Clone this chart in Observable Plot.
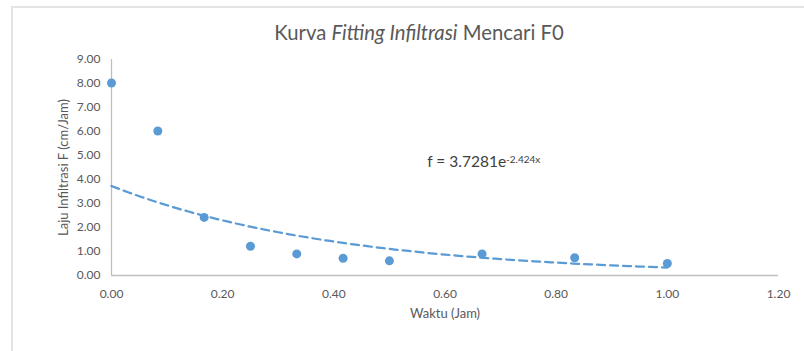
<!DOCTYPE html>
<html>
<head>
<meta charset="utf-8">
<script src="https://cdn.jsdelivr.net/npm/d3@7"></script>
<script src="https://cdn.jsdelivr.net/npm/@observablehq/plot@0.6"></script>
<style>
  html, body { margin: 0; padding: 0; background: #fff; }
  #chart { position: relative; width: 804px; height: 351px; overflow: hidden; font-family: Lato, "Open Sans", sans-serif; }
  #frame { position: absolute; left: 11px; top: 6px; width: 900px; height: 400px;
           border-left: 2px solid #e4e4e4; border-top: 2px solid #e4e4e4; }
  #title { position: absolute; left: 0; width: 838px; top: 20px; text-align: center;
           font-size: 20.3px; color: #595959; white-space: nowrap; }
  #chart svg { position: absolute; left: 0; top: 0; }
</style>
</head>
<body>
<div id="chart">
  <div id="frame"></div>
  <div id="title">Kurva <i>Fitting Infiltrasi</i> Mencari F0</div>
</div>
<script>
// Measured infiltration rate over time
const waktu = [0, 0.0833, 0.1667, 0.25, 0.3333, 0.4167, 0.5, 0.6667, 0.8333, 1.0];
const laju  = [8.02, 6.02, 2.42, 1.22, 0.90, 0.72, 0.61, 0.90, 0.74, 0.50];

// Exponential fit f = a·e^(b·x)
const fitA = 3.7281;
const fitB = -2.424;

const xTicks = [0, 0.2, 0.4, 0.6, 0.8, 1.0, 1.2];
const yTicks = [0, 1, 2, 3, 4, 5, 6, 7, 8, 9];

const xTitle = "Waktu (Jam)";
const yTitle = "Laju Infiltrasi F (cm/Jam)";

const points = waktu.map((t, i) => ({t, f: laju[i]}));
const fitLine = d3.range(0, 1.0001, 0.01).map(t => ({t, f: fitA * Math.exp(fitB * t)}));

const blue = "#5b9bd5";
const axisGray = "#bfbfbf";
const textGray = "#595959";

const plot = Plot.plot({
  width: 804,
  height: 351,
  marginLeft: 111,
  marginRight: 26,
  marginTop: 59,
  marginBottom: 76,
  style: {fontFamily: "Lato, 'Open Sans', sans-serif", fontSize: "12px", color: textGray, background: "transparent", overflow: "visible"},
  x: {
    domain: [0, 1.2],
    ticks: xTicks,
    tickFormat: d => d.toFixed(2),
    tickSize: 0,
    tickPadding: 14,
    label: null
  },
  y: {
    domain: [0, 9],
    ticks: yTicks,
    tickFormat: d => d.toFixed(2),
    tickSize: 0,
    tickPadding: 11,
    label: null
  },
  marks: [
    Plot.ruleY([0], {x1: 0, x2: 1.2, stroke: axisGray, strokeWidth: 1.3}),
    Plot.ruleX([0], {y1: 0, y2: 9, stroke: axisGray, strokeWidth: 1.3}),
    Plot.line(fitLine, {x: "t", y: "f", stroke: blue, strokeWidth: 2.25, strokeDasharray: "8,5"}),
    Plot.dot(points, {x: "t", y: "f", r: 4.5, fill: blue, stroke: null}),
    // axis titles
    Plot.text([xTitle], {frameAnchor: "bottom", dy: 42, text: d => d, fontSize: 13, fill: textGray}),
    Plot.text([yTitle], {frameAnchor: "left", textAnchor: "middle", dx: -48, rotate: -90, text: d => d, fontSize: 13, fill: textGray}),
    Plot.text([{t: 0.568, f: 4.72}], {
      x: "t", y: "f", text: () => "eq", textAnchor: "start",
      fontSize: 15.5, fill: "#404040", className: "fit-eq"
    })
  ]
});

document.getElementById("chart").appendChild(plot);

// Equation label with superscript exponent
const eq = d3.select(plot).select(".fit-eq text");
eq.text(null);
eq.append("tspan").text(`f = ${fitA}e`);
eq.append("tspan").attr("dy", "-0.45em").attr("font-size", "10px").text(`${fitB}x`);
</script>
</body>
</html>
